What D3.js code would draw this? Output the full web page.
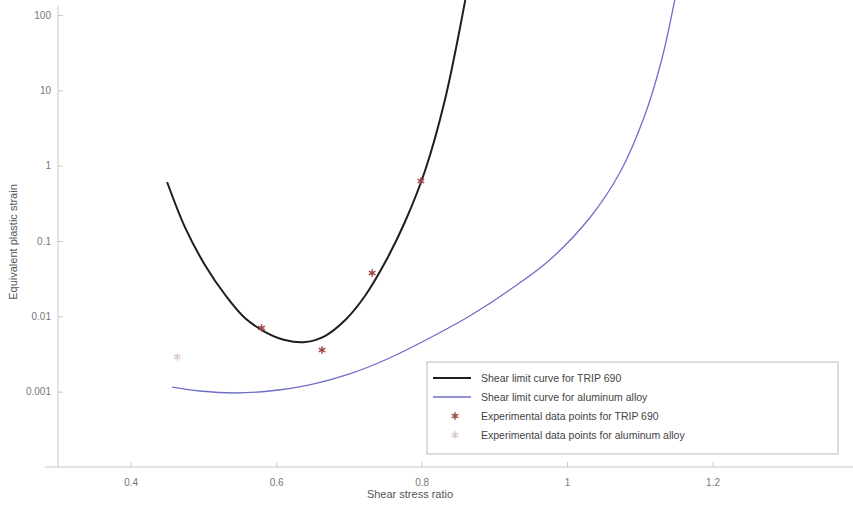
<!DOCTYPE html>
<html>
<head>
	<title>Shear limit curves</title>
	<style type="text/css">
		body { margin: 0; background: #fff; }
		svg { display: block; font-family: "Liberation Sans", Arial, sans-serif; }
		.axis path, .axis line { stroke: #c8c8c8; }
		.axis text { fill: #777; font-size: 10px; }
	</style>
</head>
<body>
<svg id="chart"></svg>

<script src="https://cdn.jsdelivr.net/npm/d3@7"></script>
<script type="text/javascript">

	// x tick values and labels
	var xTicks = [0.4, 0.6, 0.8, 1.0, 1.2]
	var xTickLabels = ["0.4", "0.6", "0.8", "1", "1.2"]

	// y tick values and labels (log axis)
	var yTicks = [100, 10, 1, 0.1, 0.01, 0.001]
	var yTickLabels = ["100", "10", "1", "0.1", "0.01", "0.001"]

	// shear limit curve for TRIP 690
	var tripCurveX = [0.450, 0.475, 0.502, 0.530, 0.557, 0.585, 0.612, 0.640, 0.667, 0.695, 0.722, 0.750, 0.777, 0.805, 0.832, 0.860]
	var tripCurveY = [0.607, 0.149, 0.0481, 0.0192, 0.0095, 0.00619, 0.00485, 0.00456, 0.00548, 0.00893, 0.0186, 0.0526, 0.1786, 0.877, 7.45, 158]

	// shear limit curve for aluminum alloy
	var aluCurveX = [0.457, 0.495, 0.543, 0.591, 0.646, 0.701, 0.756, 0.811, 0.866, 0.921, 0.976, 1.031, 1.073, 1.107, 1.130, 1.148]
	var aluCurveY = [0.00115, 0.00102, 0.00096, 0.00102, 0.00123, 0.00172, 0.00280, 0.00515, 0.0101, 0.0224, 0.0560, 0.2018, 0.824, 4.71, 25.3, 158]

	// experimental points
	var tripPointsX = [0.580, 0.663, 0.732, 0.799]
	var tripPointsY = [0.0070, 0.00357, 0.0376, 0.627]
	var aluPointsX = [0.464]
	var aluPointsY = [0.00288]

	var legendLabels = [
		"Shear limit curve for TRIP 690",
		"Shear limit curve for aluminum alloy",
		"Experimental data points for TRIP 690",
		"Experimental data points for aluminum alloy"
	]

	var width = 853, height = 513

	var svg = d3.select("#chart")
		.attr("width", width)
		.attr("height", height)

	var x = d3.scaleLinear().domain([0.3, 1.4]).range([58, 858])
	var y = d3.scaleLog().domain([1e-4, 100]).range([467, 15])

	var tripColor = "#1e1e1e",
		aluColor = "#6e6ec8",
		tripPtColor = "#a04848",
		aluPtColor = "#dccccc"

	// axes
	svg.append("g").attr("class", "axis")
		.attr("transform", "translate(0," + 467 + ")")
		.call(d3.axisBottom(x).tickValues(xTicks).tickSize(-5).tickSizeOuter(0)
			.tickFormat((d, i) => xTickLabels[i]))
		.call(g => g.selectAll("text").attr("dy", "1.6em"))
		.call(g => g.select(".domain").attr("d", "M45,0H853"))

	svg.append("g").attr("class", "axis")
		.attr("transform", "translate(" + 58 + ",0)")
		.call(d3.axisLeft(y).tickValues(yTicks).tickSize(-5).tickSizeOuter(0)
			.tickFormat((d, i) => yTickLabels[i]))
		.call(g => g.selectAll("text").attr("dx", "-0.4em"))
		.call(g => g.select(".domain").attr("d", "M0,6V467"))

	// axis titles
	svg.append("text")
		.attr("x", 410).attr("y", 498)
		.attr("text-anchor", "middle")
		.style("font-size", "11px").style("fill", "#555")
		.text("Shear stress ratio")

	svg.append("text")
		.attr("transform", "translate(17,242) rotate(-90)")
		.attr("text-anchor", "middle")
		.style("font-size", "11px").style("fill", "#555")
		.text("Equivalent plastic strain")

	var line = d3.line()
		.x(d => x(d[0]))
		.y(d => y(d[1]))
		.curve(d3.curveCatmullRom.alpha(0.5))

	svg.append("path")
		.datum(aluCurveX.map((v, i) => [v, aluCurveY[i]]))
		.attr("d", line)
		.attr("fill", "none")
		.attr("stroke", aluColor)
		.attr("stroke-width", 1.3)

	svg.append("path")
		.datum(tripCurveX.map((v, i) => [v, tripCurveY[i]]))
		.attr("d", line)
		.attr("fill", "none")
		.attr("stroke", tripColor)
		.attr("stroke-width", 2)

	var star = d3.symbol().type(d3.symbolAsterisk).size(40)

	svg.append("g").selectAll("path")
		.data(tripPointsX.map((v, i) => [v, tripPointsY[i]]))
		.enter().append("path")
		.attr("d", star)
		.attr("transform", d => "translate(" + x(d[0]) + "," + y(d[1]) + ")")
		.attr("fill", "none")
		.attr("stroke", tripPtColor)
		.attr("stroke-width", 1.5)

	svg.append("g").selectAll("path")
		.data(aluPointsX.map((v, i) => [v, aluPointsY[i]]))
		.enter().append("path")
		.attr("d", star)
		.attr("transform", d => "translate(" + x(d[0]) + "," + y(d[1]) + ")")
		.attr("fill", "none")
		.attr("stroke", aluPtColor)
		.attr("stroke-width", 1.5)

	// legend
	var lg = svg.append("g").attr("transform", "translate(427,362)")
	lg.append("rect")
		.attr("width", 411).attr("height", 92)
		.attr("fill", "#fff")
		.attr("stroke", "#bbb")

	legendLabels.forEach(function(label, i) {
		var row = lg.append("g").attr("transform", "translate(0," + (16 + i * 19) + ")")
		if (i < 2) {
			row.append("line")
				.attr("x1", 6).attr("x2", 44)
				.attr("stroke", i == 0 ? tripColor : aluColor)
				.attr("stroke-width", i == 0 ? 2 : 1.3)
		} else {
			row.append("path")
				.attr("d", star)
				.attr("transform", "translate(28,0)")
				.attr("fill", "none")
				.attr("stroke", i == 2 ? tripPtColor : aluPtColor)
				.attr("stroke-width", 1.5)
		}
		row.append("text")
			.attr("x", 54).attr("dy", "0.35em")
			.style("font-size", "10.5px").style("fill", "#444")
			.text(label)
	})
</script>
</body>
</html>
